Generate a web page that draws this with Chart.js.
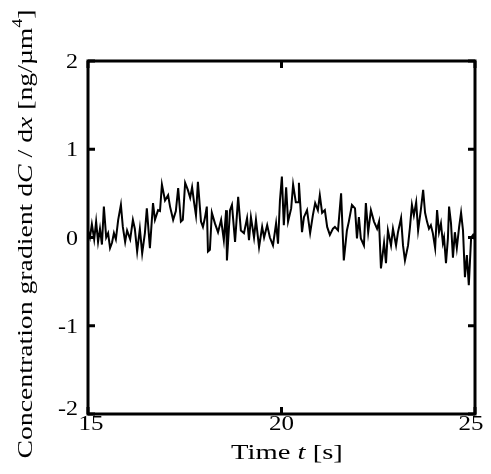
<!DOCTYPE html>
<html>
<head>
<meta charset="utf-8">
<script src="https://cdn.jsdelivr.net/npm/chart.js@4.4.1/dist/chart.umd.min.js"></script>
<style>
  html, body { margin: 0; padding: 0; background: #fff; }
  #wrap { width: 491px; height: 474px; }
</style>
</head>
<body>
<div id="wrap"><canvas id="grad"></canvas></div>
<script>
// time samples [s]
var times = [
  15.00, 15.05, 15.10, 15.16, 15.21, 15.26, 15.31, 15.36, 15.41, 15.47,
  15.52, 15.57, 15.62, 15.67, 15.72, 15.78, 15.85, 15.90, 15.96, 16.01,
  16.09, 16.16, 16.21, 16.27, 16.34, 16.40, 16.47, 16.52, 16.60, 16.68,
  16.73, 16.81, 16.86, 16.91, 16.99, 17.07, 17.12, 17.20, 17.27, 17.33,
  17.40, 17.45, 17.51, 17.58, 17.64, 17.69, 17.74, 17.79, 17.84, 17.92,
  17.97, 18.02, 18.07, 18.10, 18.15, 18.20, 18.28, 18.36, 18.44, 18.51,
  18.57, 18.59, 18.67, 18.72, 18.80, 18.88, 18.95, 19.03, 19.11, 19.16,
  19.21, 19.29, 19.34, 19.42, 19.50, 19.55, 19.63, 19.70, 19.78, 19.86,
  19.91, 19.96, 20.01, 20.06, 20.12, 20.17, 20.25, 20.30, 20.37, 20.43,
  20.45, 20.53, 20.58, 20.66, 20.74, 20.81, 20.87, 20.94, 20.99, 21.05,
  21.12, 21.18, 21.25, 21.33, 21.38, 21.46, 21.54, 21.61, 21.69, 21.74,
  21.82, 21.90, 21.95, 22.00, 22.05, 22.13, 22.18, 22.24, 22.31, 22.39,
  22.47, 22.52, 22.57, 22.65, 22.70, 22.75, 22.83, 22.88, 22.96, 23.01,
  23.09, 23.14, 23.19, 23.27, 23.32, 23.37, 23.42, 23.48, 23.53, 23.60,
  23.66, 23.71, 23.76, 23.81, 23.86, 23.91, 23.97, 24.02, 24.07, 24.12,
  24.17, 24.20, 24.25, 24.30, 24.33, 24.38, 24.43, 24.48, 24.53, 24.59,
  24.64, 24.69, 24.74, 24.79, 24.84, 24.90, 24.95, 25.00
];

// concentration gradient dC/dx [ng/um^4]
var gradient = [
  0.08, 0.00, 0.15, -0.02, 0.18, -0.05, 0.10, -0.08, 0.35, 0.00,
  0.05, -0.12, -0.06, 0.05, -0.02, 0.20, 0.37, 0.12, -0.05, 0.08,
  -0.02, 0.20, 0.10, -0.16, 0.10, -0.18, 0.05, 0.33, -0.12, 0.39,
  0.20, 0.31, 0.30, 0.60, 0.42, 0.48, 0.35, 0.20, 0.30, 0.56,
  0.18, 0.20, 0.62, 0.54, 0.45, 0.57, 0.40, 0.25, 0.63, 0.18,
  0.12, 0.22, 0.35, -0.16, -0.14, 0.28, 0.16, 0.06, 0.20, -0.03,
  0.31, -0.26, 0.31, 0.37, -0.05, 0.46, 0.08, 0.05, 0.22, -0.03,
  0.23, 0.00, 0.20, -0.11, 0.12, 0.00, 0.14, 0.00, -0.09, 0.16,
  -0.07, 0.42, 0.69, 0.14, 0.57, 0.18, 0.33, 0.60, 0.40, 0.40,
  0.62, 0.06, 0.23, 0.31, 0.05, 0.25, 0.39, 0.31, 0.48, 0.28,
  0.31, 0.12, 0.03, 0.10, 0.12, 0.08, 0.50, -0.26, 0.08, 0.18,
  0.37, 0.33, -0.01, 0.23, -0.01, -0.09, 0.39, 0.06, 0.31, 0.18,
  0.10, 0.18, -0.35, -0.06, -0.29, 0.08, -0.09, 0.10, -0.09, 0.06,
  0.22, -0.09, -0.26, -0.09, 0.12, 0.37, 0.25, 0.40, 0.08, 0.31,
  0.54, 0.28, 0.18, 0.10, 0.14, 0.05, -0.12, 0.31, 0.06, 0.16,
  -0.06, 0.00, -0.29, -0.01, 0.35, 0.16, -0.23, 0.06, -0.12, 0.12,
  0.28, 0.08, -0.45, -0.20, -0.54, 0.00, 0.03, -0.03
];

var xTicks = [15, 20, 25];
var yTicks = [-2, -1, 0, 1, 2];

var serif = 'Liberation Serif, Times New Roman, serif';

var points = times.map(function (t, i) { return { x: t, y: gradient[i] }; });

// box, inward ticks, tick labels and the mixed-style axis titles
var frame = {
  id: 'frame',
  afterDraw: function (chart) {
    var ctx = chart.ctx;
    var a = chart.chartArea;
    var xs = chart.scales.x, ys = chart.scales.y;
    ctx.save();
    ctx.strokeStyle = '#000';
    ctx.lineWidth = 3;
    ctx.strokeRect(a.left, a.top, a.right - a.left, a.bottom - a.top);

    var len = 7;
    ctx.beginPath();
    xTicks.forEach(function (v) {
      var px = xs.getPixelForValue(v);
      ctx.moveTo(px, a.bottom); ctx.lineTo(px, a.bottom - len);
      ctx.moveTo(px, a.top); ctx.lineTo(px, a.top + len);
    });
    yTicks.forEach(function (v) {
      var py = ys.getPixelForValue(v);
      ctx.moveTo(a.left, py); ctx.lineTo(a.left + len, py);
      ctx.moveTo(a.right, py); ctx.lineTo(a.right - len, py);
    });
    ctx.stroke();

    ctx.fillStyle = '#000';

    // x tick labels
    xTicks.forEach(function (v, i) {
      var px = xs.getPixelForValue(v);
      if (i === 0) px += 3;
      if (i === xTicks.length - 1) px -= 4;
      drawParts(ctx, [[String(v), '']], px, a.bottom + 16, 20, 'center', 1.25);
    });
    // y tick labels
    yTicks.forEach(function (v) {
      var py = ys.getPixelForValue(v) + 7;
      if (v === yTicks[0]) py -= 6;
      drawParts(ctx, [[String(v), '']], a.left - 10, py, 20, 'right', 1.2);
    });

    // x title
    var xParts = [['Time ', ''], ['t', 'italic '], [' [s]', '']];
    drawParts(ctx, xParts, 287, 459, 22, 'center', 1.3);

    // y title, rotated
    ctx.translate(32, 234);
    ctx.rotate(-Math.PI / 2);
    var yParts = [['Concentration gradient d', ''], ['C', 'italic '], [' / d', ''],
                  ['x', 'italic '], [' [ng/\u00b5m', ''], ['4', 'sup'], [']', '']];
    drawParts(ctx, yParts, 0, 0, 22, 'center', 1.26);
    ctx.restore();
  }
};

// writes runs of text side by side; sx widens the lettering like the original
function drawParts(ctx, parts, anchor, base, size, align, sx) {
  var widths = parts.map(function (p) {
    ctx.font = fontFor(p[1], size);
    return ctx.measureText(p[0]).width * sx;
  });
  var total = widths.reduce(function (s, w) { return s + w; }, 0);
  var x = anchor - (align === 'center' ? total / 2 : align === 'right' ? total : 0);
  ctx.textAlign = 'left';
  ctx.textBaseline = 'alphabetic';
  parts.forEach(function (p, i) {
    ctx.font = fontFor(p[1], size);
    var dy = p[1] === 'sup' ? -size * 0.45 : 0;
    ctx.save();
    ctx.translate(x, base + dy);
    ctx.scale(sx, 1);
    ctx.fillText(p[0], 0, 0);
    ctx.restore();
    x += widths[i];
  });
}

function fontFor(style, size) {
  if (style === 'sup') return Math.round(size * 0.65) + 'px ' + serif;
  return style + size + 'px ' + serif;
}

var graph = document.getElementById('grad').getContext('2d');
var myChart = new Chart(graph, {
  type: 'line',
  data: {
    datasets: [{
      data: points,
      borderColor: '#000',
      borderWidth: 2,
      pointRadius: 0,
      tension: 0,
      fill: false
    }]
  },
  options: {
    responsive: true,
    maintainAspectRatio: false,
    animation: false,
    events: [],
    layout: { padding: { left: 0, right: 16, top: 61, bottom: 0 } },
    plugins: { legend: { display: false }, tooltip: { enabled: false } },
    scales: {
      x: {
        type: 'linear',
        min: 15, max: 25,
        afterBuildTicks: function (s) { s.ticks = xTicks.map(function (v) { return { value: v }; }); },
        afterFit: function (s) { s.height = 60; },
        grid: { display: false, drawTicks: false },
        border: { display: false },
        ticks: { display: false }
      },
      y: {
        min: -2, max: 2,
        afterBuildTicks: function (s) { s.ticks = yTicks.map(function (v) { return { value: v }; }); },
        afterFit: function (s) { s.width = 88; },
        grid: { display: false, drawTicks: false },
        border: { display: false },
        ticks: { display: false }
      }
    }
  },
  plugins: [frame]
});
</script>
</body>
</html>
